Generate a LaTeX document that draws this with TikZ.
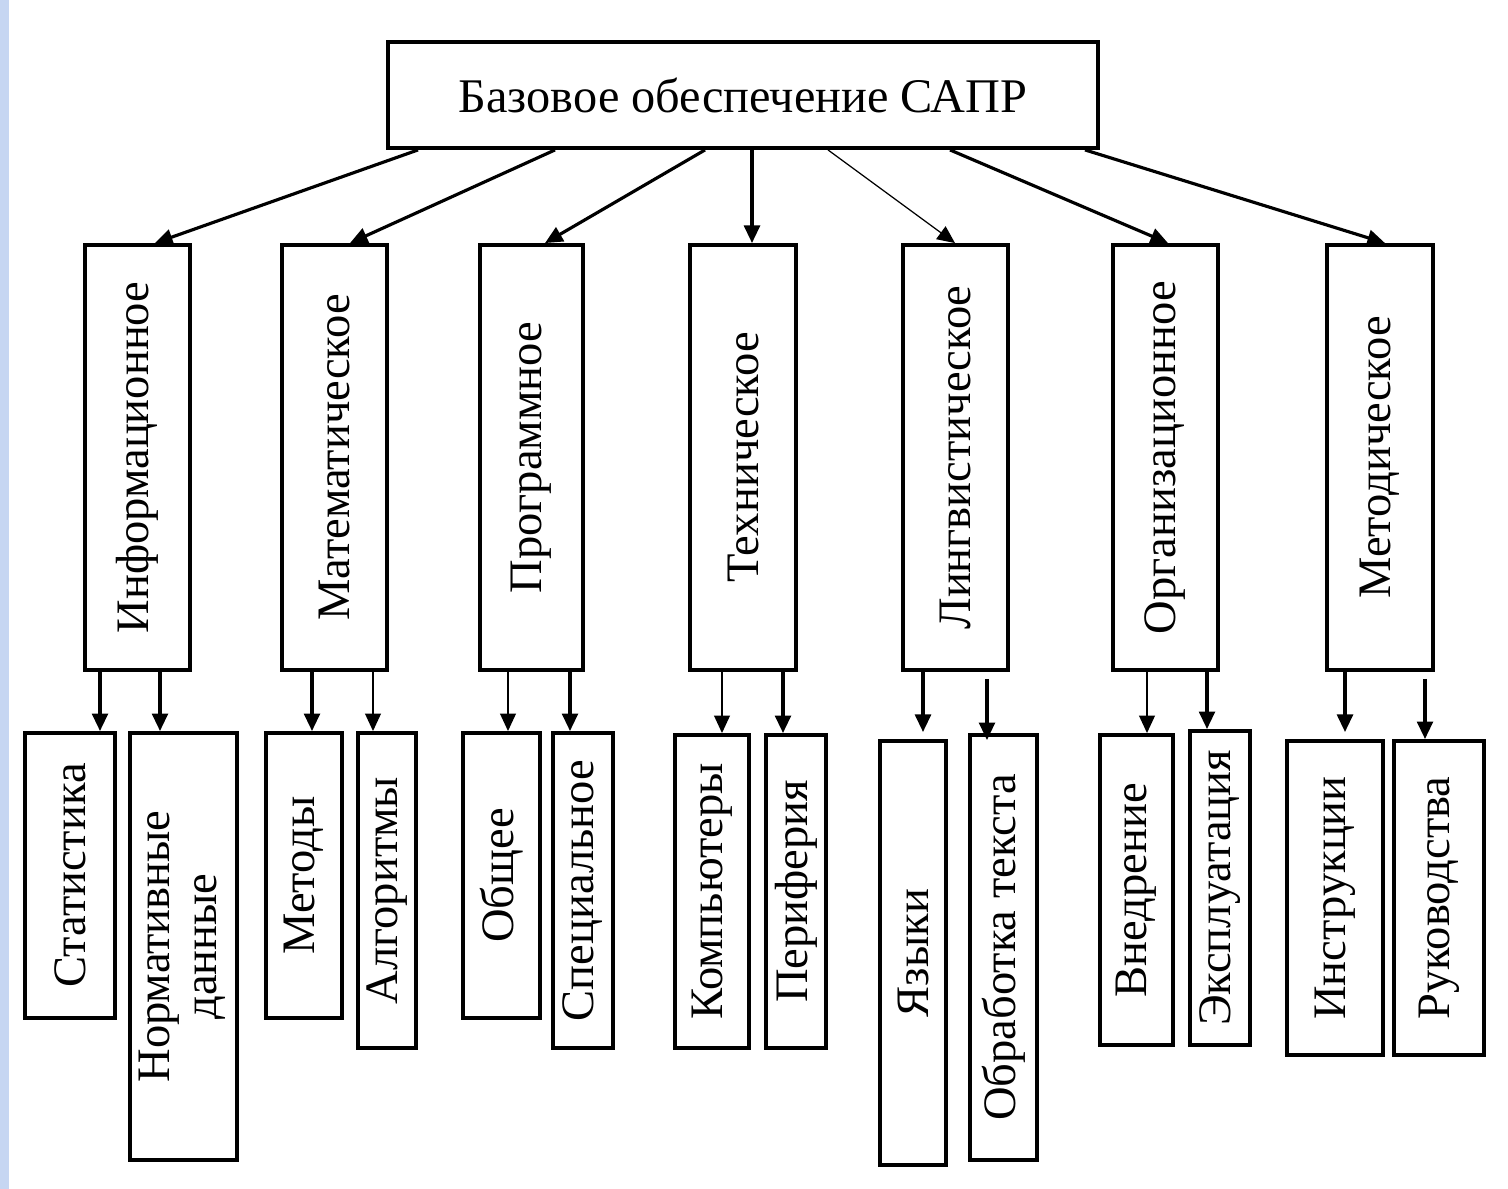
\documentclass[tikz,border=0pt]{standalone}
\usepackage{fontspec}
\setmainfont{Liberation Serif}
\usetikzlibrary{arrows.meta}

\definecolor{stripblue}{RGB}{198,214,242}

\begin{document}
\begin{tikzpicture}[x=0.02cm, y=-0.02cm, >=Triangle,
    box/.style 2 args={draw=black, line width=2.2pt, inner sep=0pt, minimum width=#1*0.02cm, minimum height=#2*0.02cm, align=center, font=\fontsize{26.5}{27}\selectfont},
    arr/.style={-{Triangle[length=10pt,width=9pt]}, line width=1.8pt},
    thinarr/.style={arr, line width=1pt}
  ]
    \fill[white] (0,0) rectangle (1508,1189);
    \fill[stripblue] (0,0) rectangle (9,1189);
    \useasboundingbox (0,0) rectangle (1508,1189);

    \node[box={710}{106}, font=\fontsize{27.5}{28}\selectfont] (base) at (743,95) {Базовое обеспечение САПР};

    \node[box={105}{425}] (info) at (137.5,457.5) {\rotatebox{90}{Информационное}};
    \node[box={105}{425}] (math) at (334.5,457.5) {\rotatebox{90}{Математическое}};
    \node[box={103}{425}] (prog) at (531.5,457.5) {\rotatebox{90}{Программное}};
    \node[box={106}{425}] (tech) at (743,457.5) {\rotatebox{90}{Техническое}};
    \node[box={105}{425}] (ling) at (955.5,457.5) {\rotatebox{90}{Лингвистическое}};
    \node[box={105}{425}] (org) at (1165.5,457.5) {\rotatebox{90}{Организационное}};
    \node[box={106}{425}] (meth) at (1380,457.5) {\rotatebox{90}{Методическое}};

    \node[box={90}{285}] (stat) at (70,875.5) {\rotatebox{90}{Статистика}};
    \node[box={107}{427}] (norm) at (183.5,946.5) {\rotatebox{90}{\begin{tabular}{@{}c@{}}Нормативные\\данные\end{tabular}}};
    \node[box={76}{285}] (metody) at (304,875.5) {\rotatebox{90}{Методы}};
    \node[box={58}{315}] (algo) at (387,890.5) {\rotatebox{90}{Алгоритмы}};
    \node[box={77}{285}] (obsh) at (501.5,875.5) {\rotatebox{90}{Общее}};
    \node[box={60}{315}] (spec) at (583,890.5) {\rotatebox{90}{Специальное}};
    \node[box={74}{313}] (comp) at (712,891.5) {\rotatebox{90}{Компьютеры}};
    \node[box={60}{313}] (peri) at (796,891.5) {\rotatebox{90}{Периферия}};
    \node[box={66}{424}] (lang) at (913,953) {\rotatebox{90}{Языки}};
    \node[box={67}{425}] (txt) at (1003.5,947.5) {\rotatebox{90}{Обработка текста}};
    \node[box={73}{310}] (vned) at (1136.5,890) {\rotatebox{90}{Внедрение}};
    \node[box={60}{314}] (expl) at (1220,888) {\rotatebox{90}{Эксплуатация}};
    \node[box={96}{314}] (instr) at (1335,898) {\rotatebox{90}{Инструкции}};
    \node[box={90}{314}] (guide) at (1439,898) {\rotatebox{90}{Руководства}};

    \draw[arr] (base.south -| 418,0) -- (info.north -| 155,0);
    \draw[arr] (base.south -| 555,0) -- (math.north -| 350,0);
    \draw[arr] (base.south -| 705,0) -- (prog.north -| 545,0);
    \draw[arr] (base.south -| 752,0) -- (tech.north -| 752,0);
    \draw[thinarr, line width=0.7pt] (base.south -| 828,0) -- (ling.north -| 955,0);
    \draw[arr] (base.south -| 950,0) -- (org.north -| 1168,0);
    \draw[arr] (base.south -| 1085,0) -- (meth.north -| 1385,0);

    \draw[arr] (info.south -| 100,0) -- (stat.north -| 100,0);
    \draw[arr] (info.south -| 160,0) -- (norm.north -| 160,0);
    \draw[arr] (math.south -| 312,0) -- (metody.north -| 312,0);
    \draw[thinarr] (math.south -| 373,0) -- (algo.north -| 373,0);
    \draw[thinarr] (prog.south -| 508,0) -- (obsh.north -| 508,0);
    \draw[arr] (prog.south -| 570,0) -- (spec.north -| 570,0);
    \draw[thinarr] (tech.south -| 722,0) -- (comp.north -| 722,0);
    \draw[arr] (tech.south -| 783,0) -- (peri.north -| 783,0);
    \draw[arr, shorten >=4pt] (ling.south -| 923,0) -- (lang.north -| 923,0);
    \draw[arr, shorten <=4pt, shorten >=-4pt] (ling.south -| 987,0) -- (txt.north -| 987,0);
    \draw[thinarr] (org.south -| 1147,0) -- (vned.north -| 1147,0);
    \draw[arr] (org.south -| 1207,0) -- (expl.north -| 1207,0);
    \draw[arr, shorten >=4pt] (meth.south -| 1345,0) -- (instr.north -| 1345,0);
    \draw[arr, shorten <=4pt] (meth.south -| 1425,0) -- (guide.north -| 1425,0);
  \end{tikzpicture}
\end{document}
